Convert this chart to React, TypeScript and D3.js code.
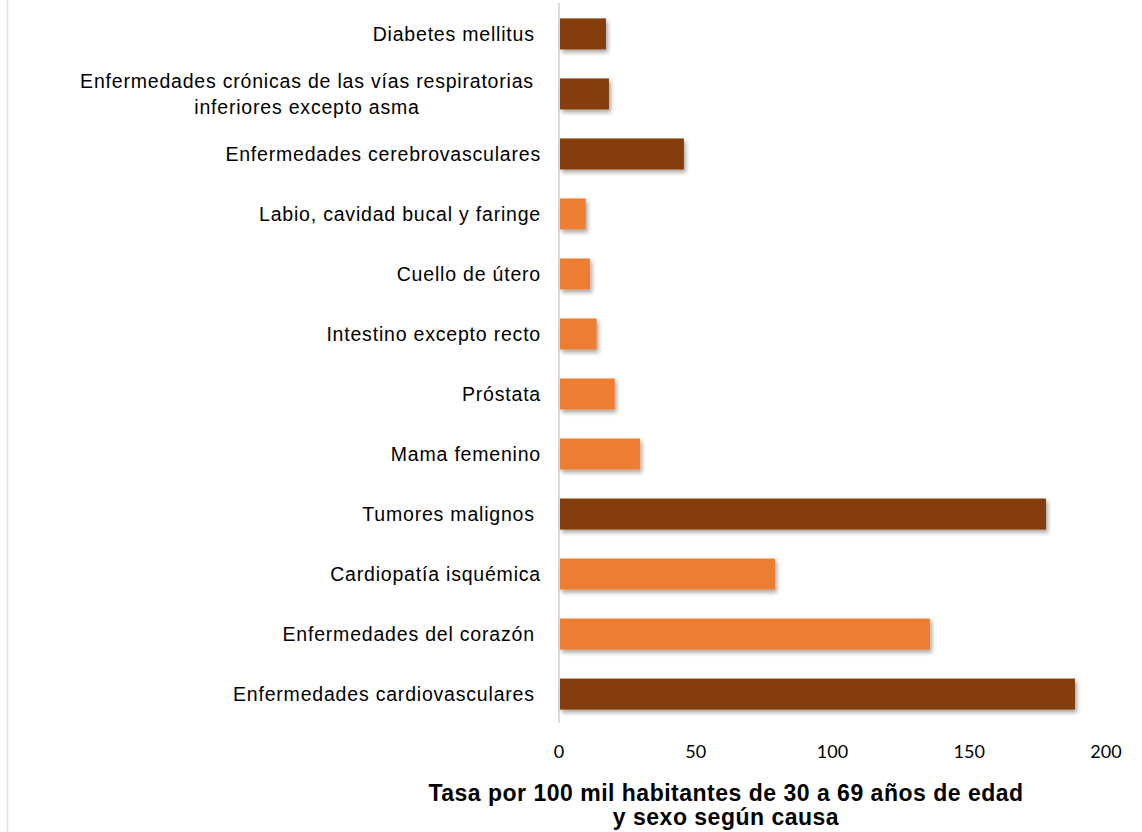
import React from "react";
import * as d3 from "d3";

const categories: string[][] = [
  ["Diabetes mellitus "],
  ["Enfermedades crónicas de las vías respiratorias", "inferiores excepto asma"],
  ["Enfermedades cerebrovasculares"],
  ["Labio, cavidad bucal y faringe"],
  ["Cuello de útero"],
  ["Intestino excepto recto"],
  ["Próstata"],
  ["Mama femenino"],
  ["Tumores malignos "],
  ["Cardiopatía isquémica"],
  ["Enfermedades del corazón "],
  ["Enfermedades cardiovasculares "],
];
const values: number[] = [16.8, 17.9, 45.3, 9.4, 11.0, 13.4, 20.0, 29.3, 177.7, 78.6, 135.3, 188.3];
const groups: string[] = ["main", "main", "main", "sub", "sub", "sub", "sub", "sub", "main", "sub", "sub", "main"];
const xTicks: number[] = [0, 50, 100, 150, 200];
const titleLines: string[] = ["Tasa por 100 mil habitantes de 30 a 69 años de edad", "y sexo según causa"];

const colors: Record<string, string> = { main: "#843C0C", sub: "#ED7D31" };

export default function App() {
  const W = 1142, H = 832;
  const x = d3.scaleLinear().domain([0, 200]).range([560, 1107]);
  const y = d3.scaleBand<number>().domain(d3.range(values.length)).range([4, 724]).paddingInner(0.483).paddingOuter(0.24);
  const bw = y.bandwidth();
  const labelFont = { fontFamily: "Liberation Sans, Arial, sans-serif", fontSize: 19.5, letterSpacing: 0.8 };
  return (
    <svg width={W} height={H} style={{ position: "absolute", left: 0, top: 0, background: "#fff" }}>
      <defs>
        <filter id="sh" x="-10%" y="-30%" width="130%" height="190%">
          <feDropShadow dx="2" dy="3" stdDeviation="2.2" floodColor="#000" floodOpacity="0.35" />
        </filter>
      </defs>
      <line x1={7.5} x2={7.5} y1={0} y2={H} stroke="#dde1e6" strokeWidth={1.5} />
      <line x1={559} x2={559} y1={3} y2={723} stroke="#d9dde3" strokeWidth={2} />
      {values.map((v, i) => (
        <rect key={i} x={x(0)} y={y(i)!} width={x(v) - x(0)} height={bw} fill={colors[groups[i]]} filter="url(#sh)" />
      ))}
      {categories.map((lines, i) => {
        const cy = y(i)! + bw / 2;
        if (lines.length === 1) {
          return (
            <text key={i} x={541} y={cy + 7} textAnchor="end" style={{ whiteSpace: "pre", ...labelFont }} fill="#000">{lines[0]}</text>
          );
        }
        return (
          <g key={i}>
            {lines.map((l, j) => (
              <text key={j} x={307} y={cy - 13 + j * 26 + 7} textAnchor="middle" style={labelFont} fill="#000">{l}</text>
            ))}
          </g>
        );
      })}
      {xTicks.map((t) => (
        <text key={t} x={x(t) - 1} y={758} textAnchor="middle" fontFamily="Lato, sans-serif" fontSize={18} fill="#000">{t}</text>
      ))}
      {titleLines.map((l, j) => (
        <text key={j} x={726} y={801 + j * 23.5} textAnchor="middle"
          style={{ fontFamily: "Liberation Sans, Arial, sans-serif", fontWeight: "bold", fontSize: 23, letterSpacing: 0.5 }}
          fill="#000">{l}</text>
      ))}
    </svg>
  );
}
